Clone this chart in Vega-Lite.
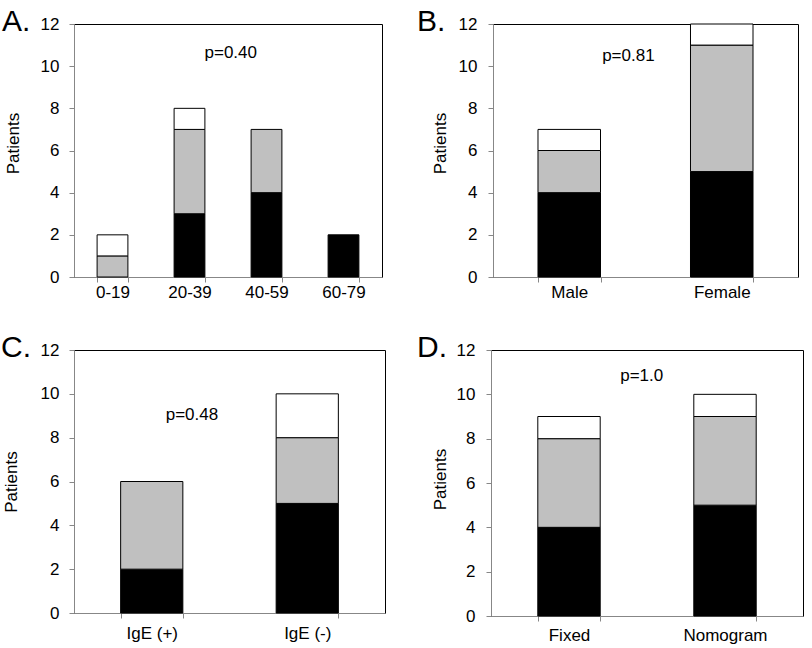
{
  "$schema": "https://vega.github.io/schema/vega-lite/v6.json",
  "padding": {"left": 0, "top": 6, "right": 5, "bottom": 2},
  "background": "white",
  "config": {
    "font": "Liberation Sans",
    "view": {"stroke": "#000000", "strokeWidth": 1},
    "axis": {
      "domainColor": "#878787", "tickColor": "#878787", "labelColor": "#000000",
      "labelFontSize": 17, "titleFontSize": 17, "titleFontWeight": "normal", "titleColor": "#000000",
      "grid": false, "tickSize": 5, "zindex": 1
    },
    "title": {"fontSize": 30, "fontWeight": "normal", "color": "#000000", "anchor": "start", "frame": "bounds", "baseline": "alphabetic", "offset": -22},
    "bar": {"stroke": "#000000", "strokeWidth": 1},
    "text": {"fontSize": 17, "baseline": "alphabetic", "align": "center", "color": "#000000"}
  },
  "datasets": {
    "A": [
      {"cat": "0-19", "grp": "Category 2", "n": 1},
      {"cat": "0-19", "grp": "Category 3", "n": 1},
      {"cat": "20-39", "grp": "Category 1", "n": 3},
      {"cat": "20-39", "grp": "Category 2", "n": 4},
      {"cat": "20-39", "grp": "Category 3", "n": 1},
      {"cat": "40-59", "grp": "Category 1", "n": 4},
      {"cat": "40-59", "grp": "Category 2", "n": 3},
      {"cat": "60-79", "grp": "Category 1", "n": 2}
    ],
    "B": [
      {"cat": "Male", "grp": "Category 1", "n": 4},
      {"cat": "Male", "grp": "Category 2", "n": 2},
      {"cat": "Male", "grp": "Category 3", "n": 1},
      {"cat": "Female", "grp": "Category 1", "n": 5},
      {"cat": "Female", "grp": "Category 2", "n": 6},
      {"cat": "Female", "grp": "Category 3", "n": 1}
    ],
    "C": [
      {"cat": "IgE (+)", "grp": "Category 1", "n": 2},
      {"cat": "IgE (+)", "grp": "Category 2", "n": 4},
      {"cat": "IgE (-)", "grp": "Category 1", "n": 5},
      {"cat": "IgE (-)", "grp": "Category 2", "n": 3},
      {"cat": "IgE (-)", "grp": "Category 3", "n": 2}
    ],
    "D": [
      {"cat": "Fixed", "grp": "Category 1", "n": 4},
      {"cat": "Fixed", "grp": "Category 2", "n": 4},
      {"cat": "Fixed", "grp": "Category 3", "n": 1},
      {"cat": "Nomogram", "grp": "Category 1", "n": 5},
      {"cat": "Nomogram", "grp": "Category 2", "n": 4},
      {"cat": "Nomogram", "grp": "Category 3", "n": 1}
    ],
    "P": [
      {"panel": "A", "label": "p=0.40"},
      {"panel": "B", "label": "p=0.81"},
      {"panel": "C", "label": "p=0.48"},
      {"panel": "D", "label": "p=1.0"}
    ]
  },
  "vconcat": [
    {
      "hconcat": [
        {
          "width": 308, "height": 253,
          "title": {"text": "A.", "dx": -2},
          "layer": [
            {
              "data": {"name": "A"},
              "mark": {"type": "bar"},
              "encoding": {
                "x": {"field": "cat", "type": "nominal", "sort": null, "scale": {"domain": ["0-19", "20-39", "40-59", "60-79"], "paddingInner": 0.6, "paddingOuter": 0.3}, "axis": {"title": null, "labelAngle": 0, "tickBand": "extent", "labelPadding": 2}},
                "y": {"field": "n", "type": "quantitative", "stack": "zero", "scale": {"domain": [0, 12]}, "axis": {"title": "Patients", "values": [0, 2, 4, 6, 8, 10, 12], "labelPadding": 10, "titlePadding": 18, "titleY": 119}},
                "color": {"field": "grp", "type": "nominal", "scale": {"domain": ["Category 1", "Category 2", "Category 3"], "range": ["#000000", "#c0c0c0", "#ffffff"]}, "legend": null},
                "order": {"field": "grp", "sort": "ascending"}
              }
            },
            {
              "data": {"name": "P"},
              "transform": [{"filter": "datum.panel == 'A'"}],
              "mark": {"type": "text"},
              "encoding": {
                "x": {"datum": "20-39", "type": "nominal", "bandPosition": 1.84},
                "y": {"datum": 10.37, "type": "quantitative"},
                "text": {"field": "label"}
              }
            }
          ]
        },
        {
          "width": 305, "height": 253,
          "title": {"text": "B.", "dx": -14},
          "layer": [
            {
              "data": {"name": "B"},
              "mark": {"type": "bar"},
              "encoding": {
                "x": {"field": "cat", "type": "nominal", "sort": null, "scale": {"domain": ["Male", "Female"], "paddingInner": 0.59, "paddingOuter": 0.295}, "axis": {"title": null, "labelAngle": 0, "tickBand": "extent", "labelPadding": 2}},
                "y": {"field": "n", "type": "quantitative", "stack": "zero", "scale": {"domain": [0, 12]}, "axis": {"title": "Patients", "values": [0, 2, 4, 6, 8, 10, 12], "labelPadding": 11, "titlePadding": 9, "titleY": 119}},
                "color": {"field": "grp", "type": "nominal", "scale": {"domain": ["Category 1", "Category 2", "Category 3"], "range": ["#000000", "#c0c0c0", "#ffffff"]}, "legend": null},
                "order": {"field": "grp", "sort": "ascending"}
              }
            },
            {
              "data": {"name": "P"},
              "transform": [{"filter": "datum.panel == 'B'"}],
              "mark": {"type": "text"},
              "encoding": {
                "x": {"datum": "Male", "type": "nominal", "bandPosition": 1.446},
                "y": {"datum": 10.25, "type": "quantitative"},
                "text": {"field": "label"}
              }
            }
          ]
        }
      ],
      "spacing": 33
    },
    {
      "hconcat": [
        {
          "width": 311, "height": 263,
          "title": {"text": "C.", "dx": -1},
          "layer": [
            {
              "data": {"name": "C"},
              "mark": {"type": "bar"},
              "encoding": {
                "x": {"field": "cat", "type": "nominal", "sort": null, "scale": {"domain": ["IgE (+)", "IgE (-)"], "paddingInner": 0.6, "paddingOuter": 0.3}, "axis": {"title": null, "labelAngle": 0, "tickBand": "extent", "labelPadding": 7}},
                "y": {"field": "n", "type": "quantitative", "stack": "zero", "scale": {"domain": [0, 12]}, "axis": {"title": "Patients", "values": [0, 2, 4, 6, 8, 10, 12], "labelPadding": 10, "titlePadding": 20}},
                "color": {"field": "grp", "type": "nominal", "scale": {"domain": ["Category 1", "Category 2", "Category 3"], "range": ["#000000", "#c0c0c0", "#ffffff"]}, "legend": null},
                "order": {"field": "grp", "sort": "ascending"}
              }
            },
            {
              "data": {"name": "P"},
              "transform": [{"filter": "datum.panel == 'C'"}],
              "mark": {"type": "text"},
              "encoding": {
                "x": {"datum": "IgE (+)", "type": "nominal", "bandPosition": 1.146},
                "y": {"datum": 8.82, "type": "quantitative"},
                "text": {"field": "label"}
              }
            }
          ]
        },
        {
          "width": 312, "height": 266,
          "title": {"text": "D.", "dx": -14},
          "layer": [
            {
              "data": {"name": "D"},
              "mark": {"type": "bar"},
              "encoding": {
                "x": {"field": "cat", "type": "nominal", "sort": null, "scale": {"domain": ["Fixed", "Nomogram"], "paddingInner": 0.6, "paddingOuter": 0.3}, "axis": {"title": null, "labelAngle": 0, "tickBand": "extent", "labelPadding": 6}},
                "y": {"field": "n", "type": "quantitative", "stack": "zero", "scale": {"domain": [0, 12]}, "axis": {"title": "Patients", "values": [0, 2, 4, 6, 8, 10, 12], "labelPadding": 11, "titlePadding": 7, "titleY": 129}},
                "color": {"field": "grp", "type": "nominal", "scale": {"domain": ["Category 1", "Category 2", "Category 3"], "range": ["#000000", "#c0c0c0", "#ffffff"]}, "legend": null},
                "order": {"field": "grp", "sort": "ascending"}
              }
            },
            {
              "data": {"name": "P"},
              "transform": [{"filter": "datum.panel == 'D'"}],
              "mark": {"type": "text"},
              "encoding": {
                "x": {"datum": "Fixed", "type": "nominal", "bandPosition": 1.665},
                "y": {"datum": 10.59, "type": "quantitative"},
                "text": {"field": "label"}
              }
            }
          ]
        }
      ],
      "spacing": 30
    }
  ],
  "spacing": 31,
  "resolve": {"scale": {"color": "independent"}}
}
